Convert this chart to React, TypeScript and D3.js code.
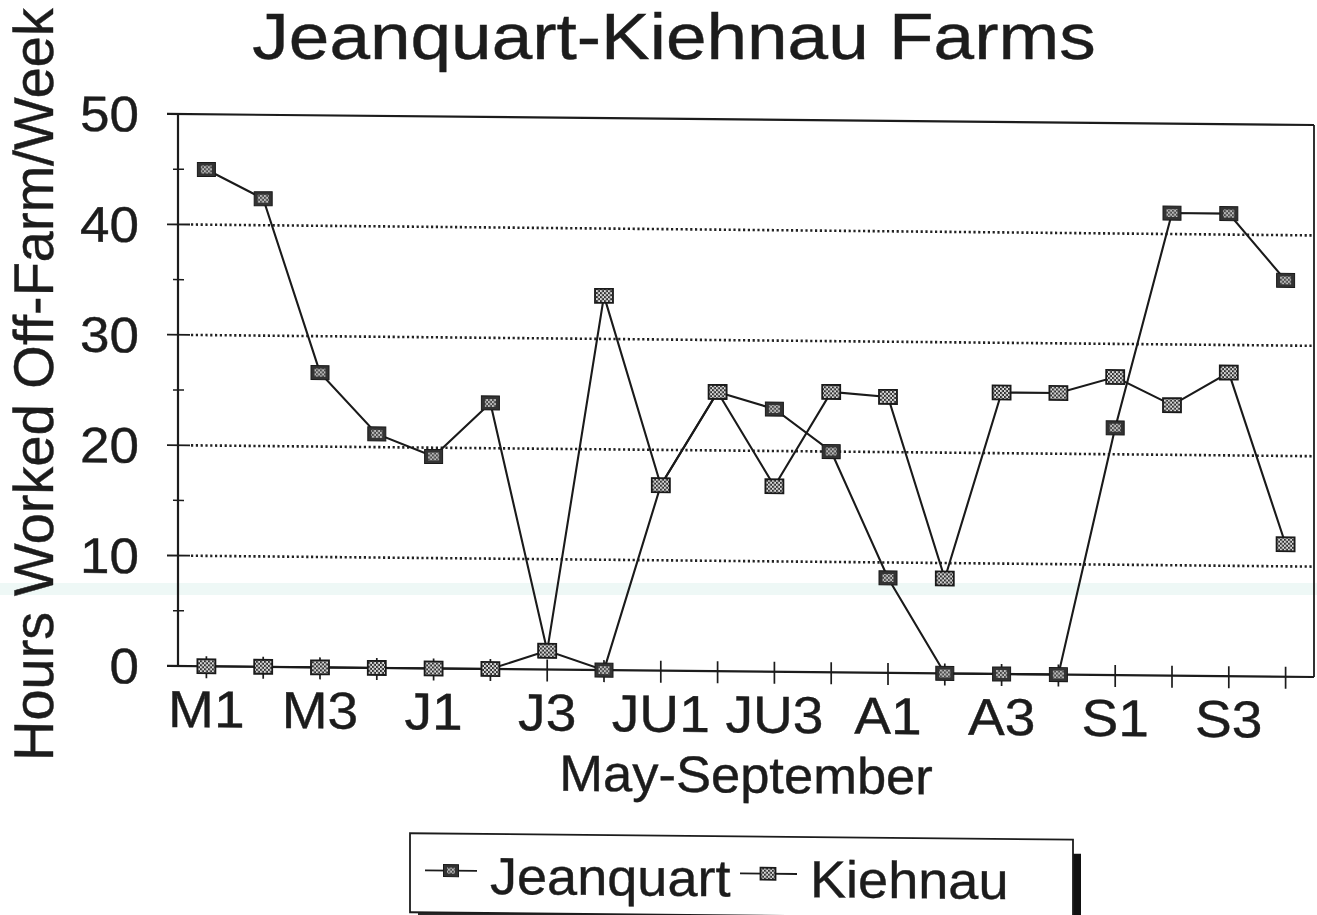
import React from "react";
import * as d3 from "d3";

const categories = ["M1","M2","M3","M4","J1","J2","J3","J4","JU1","JU2","JU3","JU4","A1","A2","A3","A4","S1","S2","S3","S4"];
const jeanquart = [45, 42.4, 26.7, 21.2, 19.2, 24.1, 1.7, 0, 16.8, 25.3, 23.8, 20, 8.6, 0, 0, 0, 22.4, 41.9, 41.9, 35.9];
const kiehnau = [0, 0, 0, 0, 0, 0, 1.7, 33.9, 16.8, 25.3, 16.8, 25.4, 25, 8.6, 25.5, 25.5, 27, 24.5, 27.5, 12];
const labelEvery = ["M1","M3","J1","J3","JU1","JU3","A1","A3","S1","S3"];
const yMajor = [0, 10, 20, 30, 40, 50];
const yMinor = [5, 15, 25, 35, 45];
const yGrid = [10, 20, 30, 40];
const seriesNames = ["Jeanquart", "Kiehnau"];

const W = 1317, H = 915;
const FONT = "'Liberation Sans', Arial, Helvetica, sans-serif";
const INK = "#1c1c1c";
const SKEW = 0.0097;

function T({ x, y, size, anchor = "start", sx = 1.06, children }: any) {
  return (
    <text transform={`translate(${x},${y}) scale(${sx},1)`} fontSize={size} textAnchor={anchor}
      fontFamily={FONT} fill={INK} stroke={INK} strokeWidth={0.4}>{children}</text>
  );
}

function JMarker({ cx, cy, w = 18, h = 14 }: any) {
  return (
    <g>
      <rect x={cx - w / 2} y={cy - h / 2} width={w} height={h} fill="#333" stroke="#1a1a1a" strokeWidth={1} />
      <rect x={cx - w / 2 + 3.5} y={cy - h / 2 + 3} width={w - 7} height={h - 6} fill="url(#chk2)" />
    </g>
  );
}
function KMarker({ cx, cy, w = 18, h = 14 }: any) {
  return (
    <rect x={cx - w / 2} y={cy - h / 2} width={w} height={h} fill="url(#chk)" stroke="#1a1a1a" strokeWidth={1.8} />
  );
}

export default function App() {
  const left = 178, right = 1314, top = 114, bottom = 666;
  const x = d3.scaleBand<string>().domain(categories).range([left, right]);
  const xc = (c: string) => (x(c) as number) + x.bandwidth() / 2;
  const y = d3.scaleLinear().domain([0, 50]).range([bottom, top]);
  const line = d3.line<number>().x((_, i) => xc(categories[i])).y((v) => y(v));
  const skewDeg = (Math.atan(SKEW) * 180) / Math.PI;

  return (
    <svg width={W} height={H} style={{ position: "absolute", left: 0, top: 0, background: "#fff" }}>
      <defs>
        <pattern id="chk" patternUnits="userSpaceOnUse" width={4} height={4}>
          <rect width={4} height={4} fill="#dcdcdc" />
          <rect width={2} height={2} fill="#303030" />
          <rect x={2} y={2} width={2} height={2} fill="#303030" />
        </pattern>
        <pattern id="chk2" patternUnits="userSpaceOnUse" width={4} height={4}>
          <rect width={4} height={4} fill="#bdbdbd" />
          <rect width={2} height={2} fill="#4a4a4a" />
          <rect x={2} y={2} width={2} height={2} fill="#4a4a4a" />
        </pattern>
      </defs>
      <rect x={0} y={583} width={W} height={12} fill="#eef8f6" />
      <T x={674} y={59} size={64} anchor="middle" sx={1.14}>Jeanquart-Kiehnau Farms</T>
      <g transform={`translate(0,${-left * SKEW}) skewY(${skewDeg})`}>
        {/* gridlines */}
        {yGrid.map((v) => (
          <line key={"g" + v} x1={191} x2={right} y1={y(v)} y2={y(v)} stroke="#222" strokeWidth={2.6} strokeDasharray="2.2,2.6" />
        ))}
        {/* frame */}
        <line x1={167} x2={right} y1={top} y2={top} stroke={INK} strokeWidth={2.2} />
        <line x1={right} x2={right} y1={top} y2={bottom} stroke={INK} strokeWidth={1.8} />
        <line x1={left} x2={left} y1={top} y2={bottom} stroke={INK} strokeWidth={2.2} />
        <line x1={167} x2={right} y1={bottom} y2={bottom} stroke={INK} strokeWidth={2.2} />
        {/* y ticks */}
        {yMajor.map((v) => (
          <line key={"ym" + v} x1={167} x2={190} y1={y(v)} y2={y(v)} stroke={INK} strokeWidth={1.8} />
        ))}
        {yMinor.map((v) => (
          <line key={"yn" + v} x1={173} x2={184} y1={y(v)} y2={y(v)} stroke={INK} strokeWidth={1.5} />
        ))}
        {yMajor.map((v) => (
          <T key={"yl" + v} x={139} y={y(v) + 18} size={50} anchor="end">{String(v)}</T>
        ))}
        {/* x ticks */}
        {categories.map((c) => (
          <line key={"xt" + c} x1={xc(c)} x2={xc(c)} y1={bottom - 10} y2={bottom + 12} stroke={INK} strokeWidth={1.7} />
        ))}
        {labelEvery.map((c) => (
          <T key={"xl" + c} x={xc(c)} y={727} size={52} anchor="middle">{c}</T>
        ))}
        <T x={(left + right) / 2} y={787} size={51} anchor="middle" sx={1.03}>May-September</T>
        <text transform="translate(53,386) rotate(-90)" fontSize={56} textAnchor="middle" fontFamily={FONT}
          fill={INK} stroke={INK} strokeWidth={0.4}>
          Hours Worked Off-Farm/Week
        </text>

        {/* series */}
        <path d={line(kiehnau) || ""} fill="none" stroke="#1a1a1a" strokeWidth={2.1} />
        <path d={line(jeanquart) || ""} fill="none" stroke="#1a1a1a" strokeWidth={2.1} />
        {jeanquart.map((v, i) => (
          <JMarker key={"jm" + i} cx={xc(categories[i])} cy={y(v)} />
        ))}
        {kiehnau.map((v, i) => (
          <KMarker key={"km" + i} cx={xc(categories[i])} cy={y(v)} />
        ))}

        {/* legend */}
        <rect x={1073} y={845} width={8} height={80} fill="#111" />
        <rect x={418} y={909} width={663} height={10} fill="#2a2a2a" />
        <rect x={410} y={831} width={663} height={79} fill="#fff" stroke={INK} strokeWidth={1.8} />
        <line x1={425} x2={477} y1={868} y2={868} stroke={INK} strokeWidth={1.8} />
        <JMarker cx={451} cy={868} w={15} h={12} />
        <T x={490} y={891} size={52} sx={1.04}>{seriesNames[0]}</T>
        <line x1={740} x2={797} y1={868} y2={868} stroke={INK} strokeWidth={1.8} />
        <KMarker cx={768} cy={868} w={15} h={12} />
        <T x={810} y={891} size={52} sx={1.04}>{seriesNames[1]}</T>
      </g>
    </svg>
  );
}
